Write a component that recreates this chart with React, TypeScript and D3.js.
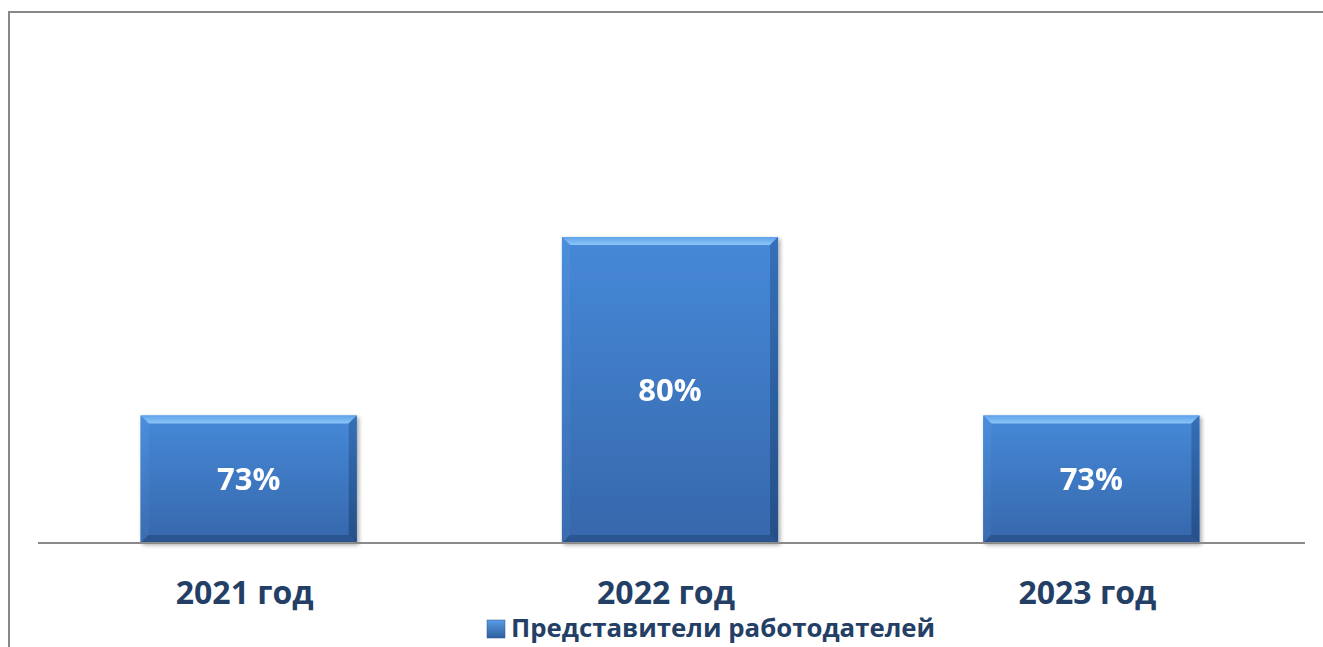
import React from "react";
import * as d3 from "d3";

const categories = ["2021 год", "2022 год", "2023 год"];
const values = [73, 80, 73];
const valueLabels = ["73%", "80%", "73%"];
const seriesName = "Представители работодателей";

const W = 1323;
const H = 647;
const TEXT = "#243F66";
const FONT = "'Open Sans', 'Noto Sans', sans-serif";

export default function App() {
  const x = d3.scaleBand<string>().domain(categories).range([38, 1302]).paddingInner(0.487).paddingOuter(0.2435);
  const y = d3.scaleLinear().domain([68, 85]).range([543, 109.5]);
  const bw = x.bandwidth();
  const b = 8;

  return (
    <svg width={W} height={H} style={{ position: "absolute", left: 0, top: 0, display: "block" }}>
      <defs>
        <linearGradient id="face" x1="0" y1="0" x2="0" y2="1">
          <stop offset="0" stopColor="#4689d8" />
          <stop offset="1" stopColor="#3667ab" />
        </linearGradient>
        <linearGradient id="topB" x1="0" y1="0" x2="0" y2="1">
          <stop offset="0" stopColor="#5fa3ea" />
          <stop offset="1" stopColor="#8cc4f7" />
        </linearGradient>
        <linearGradient id="leftB" x1="0" y1="0" x2="0" y2="1">
          <stop offset="0" stopColor="#4c8fdc" />
          <stop offset="1" stopColor="#3a6cb0" />
        </linearGradient>
        <linearGradient id="rightB" x1="0" y1="0" x2="0" y2="1">
          <stop offset="0" stopColor="#3570b8" />
          <stop offset="1" stopColor="#244f88" />
        </linearGradient>
        <linearGradient id="legG" x1="0" y1="0" x2="0" y2="1">
          <stop offset="0" stopColor="#5a9de6" />
          <stop offset="1" stopColor="#2f5f9f" />
        </linearGradient>
        <filter id="sh" x="-10%" y="-10%" width="120%" height="120%">
          <feGaussianBlur in="SourceAlpha" stdDeviation="2" />
          <feOffset dx="1.5" dy="1.5" />
          <feComponentTransfer><feFuncA type="linear" slope="0.35" /></feComponentTransfer>
          <feMerge><feMergeNode /><feMergeNode in="SourceGraphic" /></feMerge>
        </filter>
      </defs>
      <rect x={0} y={0} width={W} height={H} fill="#fff" />
      <line x1={9} y1={12} x2={W} y2={12} stroke="#888" strokeWidth={2} />
      <line x1={9} y1={11} x2={9} y2={H} stroke="#888" strokeWidth={2} />

      {categories.map((c, i) => {
        const x0 = x(c)!;
        const x1 = x0 + bw;
        const y0 = y(values[i]);
        const y1 = y(68);
        return (
          <g key={c} filter="url(#sh)">
            <rect x={x0} y={y0} width={bw} height={y1 - y0} fill="url(#face)" />
            <polygon points={`${x0},${y0} ${x1},${y0} ${x1 - b},${y0 + b} ${x0 + b},${y0 + b}`} fill="url(#topB)" />
            <polygon points={`${x0},${y0} ${x0 + b},${y0 + b} ${x0 + b},${y1 - b} ${x0},${y1}`} fill="url(#leftB)" opacity={0.9} />
            <polygon points={`${x1},${y0} ${x1},${y1} ${x1 - b},${y1 - b} ${x1 - b},${y0 + b}`} fill="url(#rightB)" />
            <polygon points={`${x0},${y1} ${x0 + b},${y1 - b} ${x1 - b},${y1 - b} ${x1},${y1}`} fill="#2b5590" />
            <text x={x0 + bw / 2} y={(y0 + y1) / 2} dy="0.36em" textAnchor="middle" fill="#fff" fontFamily={FONT} fontWeight={700} fontSize={31}>
              {valueLabels[i]}
            </text>
          </g>
        );
      })}

      <line x1={38} y1={543} x2={1305} y2={543} stroke="#8a8a8a" strokeWidth={2} />

      {categories.map((c) => (
        <text key={c} x={x(c)! + bw / 2 - 4} y={592} dy="0.36em" textAnchor="middle" fill={TEXT} fontFamily={FONT} fontWeight={700} fontSize={32}>
          {c}
        </text>
      ))}

      <rect x={487} y={620} width={18} height={18} fill="url(#legG)" stroke="#2a5590" strokeWidth={0.5} />
      <text x={511} y={628} dy="0.36em" fill={TEXT} fontFamily={FONT} fontWeight={700} fontSize={25.8}>
        {seriesName}
      </text>
    </svg>
  );
}
